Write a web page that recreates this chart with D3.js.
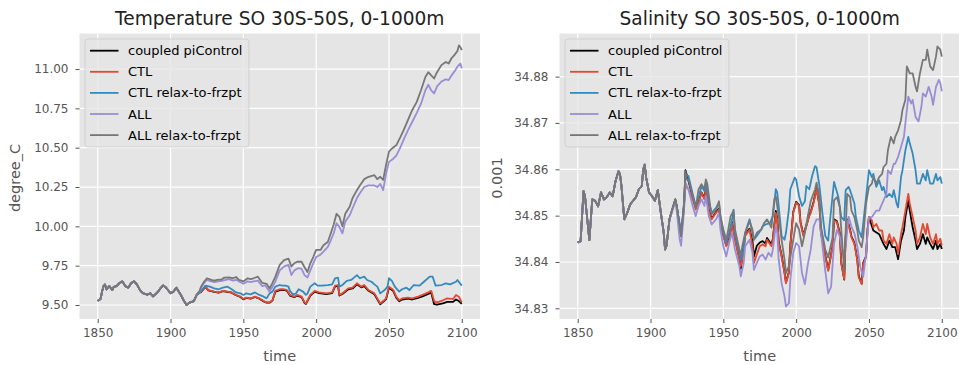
<!DOCTYPE html>
<html><head><meta charset="utf-8">
<script src="https://cdnjs.cloudflare.com/ajax/libs/d3/7.8.5/d3.min.js"></script>
<style>
body{margin:0;background:#fff}
svg{display:block;font-family:"DejaVu Sans",sans-serif}
</style>
</head><body>
<svg id="chart" width="959" height="365"></svg>
<script>
// ---------- labels / ticks ----------
const seriesNames = ["coupled piControl", "CTL", "CTL relax-to-frzpt", "ALL", "ALL relax-to-frzpt"];
const seriesColors = ["#000000", "#E24A33", "#348ABD", "#988ED5", "#777777"];
const xTicks = [1850, 1900, 1950, 2000, 2050, 2100];
const tempTicks = [9.50, 9.75, 10.00, 10.25, 10.50, 10.75, 11.00];
const salTicks = [34.83, 34.84, 34.85, 34.86, 34.87, 34.88];

// ---------- Temperature (degree_C) ----------
const tempShared = [[1850,9.525],[1852,9.54],[1853,9.585],[1854,9.62],[1855,9.63],[1856,9.60],[1858,9.62],[1860,9.595],[1861,9.615],[1863,9.62],[1865,9.64],[1867,9.65],[1869,9.62],[1871,9.61],[1873,9.64],[1875,9.65],[1877,9.63],[1879,9.595],[1881,9.575],[1884,9.565],[1886,9.575],[1888,9.555],[1891,9.58],[1893,9.605],[1895,9.625],[1897,9.61],[1900,9.575],[1902,9.585],[1904,9.61],[1907,9.565],[1909,9.53],[1911,9.50],[1913,9.515],[1916,9.525],[1918,9.565]];
const tempPiControl = [[1920,9.578],[1921,9.583],[1924,9.615],[1926,9.593],[1930,9.583],[1933,9.578],[1936,9.588],[1939,9.583],[1942,9.578],[1945,9.562],[1948,9.551],[1950,9.536],[1952,9.545],[1955,9.54],[1958,9.551],[1961,9.54],[1964,9.523],[1966,9.515],[1968,9.515],[1970,9.528],[1972,9.585],[1975,9.595],[1978,9.596],[1980,9.59],[1982,9.56],[1985,9.55],[1987,9.56],[1990,9.55],[1992,9.513],[1993,9.507],[1996,9.56],[1999,9.585],[2002,9.576],[2007,9.57],[2011,9.575],[2013,9.618],[2015,9.622],[2016,9.56],[2018,9.57],[2022,9.6],[2025,9.605],[2028,9.632],[2031,9.612],[2033,9.62],[2036,9.59],[2040,9.568],[2042,9.537],[2044,9.505],[2046,9.52],[2048,9.537],[2050,9.61],[2053,9.588],[2055,9.547],[2057,9.524],[2059,9.535],[2063,9.54],[2066,9.535],[2070,9.545],[2073,9.555],[2077,9.57],[2079,9.58],[2081,9.505],[2083,9.503],[2087,9.51],[2090,9.52],[2094,9.52],[2096,9.535],[2098,9.525],[2100,9.507]];
const tempCtl = [[1920,9.58],[1921,9.585],[1924,9.617],[1926,9.595],[1930,9.585],[1933,9.58],[1936,9.59],[1939,9.585],[1942,9.58],[1945,9.564],[1948,9.553],[1950,9.538],[1952,9.547],[1955,9.542],[1958,9.553],[1961,9.542],[1964,9.525],[1966,9.517],[1968,9.517],[1970,9.53],[1972,9.59],[1975,9.60],[1978,9.60],[1980,9.595],[1982,9.564],[1985,9.553],[1987,9.564],[1990,9.553],[1992,9.517],[1993,9.51],[1996,9.564],[1999,9.59],[2002,9.58],[2007,9.574],[2011,9.58],[2013,9.623],[2015,9.627],[2016,9.564],[2018,9.574],[2022,9.606],[2025,9.61],[2028,9.638],[2031,9.617],[2033,9.627],[2036,9.595],[2040,9.574],[2042,9.542],[2044,9.51],[2046,9.525],[2048,9.542],[2050,9.617],[2053,9.595],[2055,9.553],[2057,9.53],[2059,9.542],[2063,9.547],[2066,9.542],[2070,9.553],[2073,9.564],[2077,9.58],[2079,9.59],[2081,9.525],[2083,9.517],[2087,9.53],[2090,9.542],[2094,9.538],[2096,9.564],[2098,9.553],[2100,9.517]];
const tempCtlRelax = [[1920,9.58],[1921,9.59],[1924,9.623],[1927,9.617],[1930,9.606],[1933,9.60],[1936,9.61],[1939,9.617],[1942,9.60],[1945,9.58],[1948,9.574],[1950,9.564],[1952,9.574],[1955,9.568],[1958,9.58],[1961,9.564],[1964,9.553],[1966,9.542],[1968,9.574],[1970,9.585],[1972,9.617],[1975,9.627],[1977,9.623],[1979,9.623],[1981,9.617],[1982,9.59],[1984,9.568],[1986,9.572],[1988,9.60],[1991,9.585],[1993,9.564],[1994,9.572],[1996,9.617],[1999,9.638],[2001,9.623],[2004,9.623],[2008,9.627],[2011,9.631],[2013,9.67],[2015,9.674],[2016,9.617],[2018,9.627],[2021,9.653],[2024,9.659],[2026,9.674],[2028,9.69],[2030,9.67],[2033,9.68],[2035,9.659],[2038,9.648],[2040,9.631],[2042,9.617],[2044,9.574],[2047,9.595],[2049,9.617],[2050,9.67],[2052,9.653],[2054,9.617],[2057,9.585],[2059,9.60],[2062,9.61],[2064,9.595],[2067,9.627],[2071,9.623],[2074,9.648],[2078,9.68],[2080,9.68],[2082,9.623],[2086,9.627],[2089,9.638],[2092,9.631],[2096,9.648],[2097,9.659],[2100,9.623]];
const tempAll = [[1920,9.585],[1921,9.61],[1923,9.64],[1925,9.66],[1928,9.65],[1930,9.645],[1933,9.65],[1936,9.655],[1940,9.665],[1943,9.655],[1945,9.66],[1948,9.645],[1950,9.635],[1953,9.65],[1955,9.645],[1957,9.65],[1960,9.655],[1963,9.62],[1965,9.625],[1968,9.585],[1970,9.615],[1972,9.65],[1975,9.72],[1978,9.745],[1981,9.755],[1983,9.69],[1985,9.72],[1988,9.735],[1990,9.73],[1992,9.69],[1994,9.675],[1996,9.72],[1998,9.765],[2000,9.805],[2003,9.82],[2005,9.84],[2008,9.87],[2010,9.91],[2012,9.955],[2014,10.02],[2016,9.995],[2018,9.955],[2020,10.03],[2023,10.07],[2025,10.115],[2028,10.18],[2030,10.21],[2033,10.25],[2036,10.26],[2040,10.26],[2042,10.25],[2044,10.27],[2046,10.23],[2048,10.335],[2050,10.41],[2053,10.43],[2055,10.45],[2058,10.505],[2060,10.55],[2063,10.61],[2066,10.665],[2069,10.72],[2072,10.78],[2075,10.865],[2077,10.90],[2079,10.865],[2081,10.845],[2083,10.89],[2086,10.92],[2089,10.935],[2091,10.93],[2093,10.96],[2095,10.985],[2097,11.015],[2099,11.035],[2100,11.005]];
const tempAllRelax = [[1920,9.59],[1921,9.617],[1923,9.648],[1925,9.67],[1928,9.66],[1930,9.655],[1932,9.66],[1935,9.662],[1937,9.674],[1940,9.675],[1943,9.67],[1945,9.678],[1947,9.66],[1950,9.65],[1953,9.67],[1955,9.665],[1957,9.67],[1960,9.68],[1963,9.64],[1966,9.635],[1968,9.605],[1970,9.64],[1972,9.68],[1975,9.755],[1978,9.785],[1981,9.795],[1983,9.745],[1985,9.765],[1987,9.775],[1990,9.775],[1992,9.74],[1994,9.71],[1996,9.765],[1998,9.805],[2000,9.85],[2003,9.85],[2005,9.88],[2008,9.90],[2010,9.955],[2012,10.01],[2014,10.08],[2016,10.06],[2018,10.00],[2020,10.08],[2023,10.125],[2025,10.18],[2028,10.23],[2030,10.26],[2033,10.30],[2036,10.315],[2040,10.325],[2042,10.30],[2044,10.315],[2046,10.295],[2048,10.39],[2050,10.475],[2052,10.495],[2055,10.515],[2058,10.57],[2060,10.61],[2063,10.675],[2066,10.74],[2069,10.79],[2072,10.865],[2075,10.95],[2077,10.98],[2079,10.96],[2081,10.94],[2083,10.98],[2086,11.025],[2089,11.045],[2091,11.035],[2093,11.07],[2095,11.09],[2097,11.115],[2098,11.15],[2099,11.14],[2100,11.12]];

// ---------- Salinity (0.001) ----------
const salShared = [[1850,34.8442],[1852,34.8445],[1854,34.8553],[1855,34.8542],[1856,34.851],[1858,34.8447],[1860,34.8535],[1862,34.8532],[1864,34.852],[1866,34.855],[1868,34.8535],[1870,34.854],[1872,34.855],[1874,34.8542],[1876,34.8575],[1878,34.8596],[1879,34.859],[1880,34.8565],[1882,34.8492],[1884,34.8506],[1886,34.8524],[1888,34.8532],[1890,34.854],[1892,34.8557],[1894,34.8564],[1895,34.86],[1896,34.861],[1897,34.8582],[1899,34.855],[1901,34.8542],[1903,34.8532],[1905,34.8555],[1907,34.8508],[1909,34.8465]];
const salPiControl = [[1910,34.8427],[1911,34.8435],[1913,34.8492],[1915,34.8514],[1917,34.8535],[1918,34.8521],[1920,34.8478],[1921,34.8456],[1923,34.8521],[1924,34.8598],[1926,34.8575],[1929,34.854],[1931,34.852],[1933,34.853],[1935,34.855],[1937,34.8538],[1938,34.8558],[1940,34.8512],[1942,34.8494],[1945,34.8508],[1947,34.8515],[1948,34.8486],[1950,34.8458],[1952,34.8436],[1954,34.845],[1956,34.8486],[1958,34.845],[1961,34.8408],[1962,34.8385],[1964,34.8435],[1965,34.846],[1968,34.8472],[1970,34.8445],[1971,34.8412],[1973,34.8435],[1975,34.8442],[1977,34.8445],[1979,34.844],[1980,34.8452],[1983,34.8438],[1984,34.845],[1986,34.851],[1987,34.8495],[1988,34.8444],[1990,34.8414],[1992,34.8378],[1993,34.8356],[1995,34.8378],[1996,34.8436],[1998,34.8508],[2000,34.853],[2002,34.8523],[2003,34.8486],[2005,34.8458],[2007,34.8479],[2009,34.8501],[2010,34.8508],[2012,34.853],[2014,34.8559],[2016,34.8523],[2017,34.8465],[2020,34.8414],[2022,34.8383],[2025,34.8434],[2026,34.8492],[2028,34.8488],[2030,34.8462],[2031,34.8398],[2033,34.8362],[2034,34.8455],[2035,34.8492],[2037,34.847],[2038,34.8455],[2040,34.8441],[2042,34.8405],[2043,34.8369],[2045,34.8354],[2046,34.8398],[2048,34.8412],[2049,34.847],[2050,34.8497],[2053,34.8468],[2057,34.846],[2060,34.8439],[2062,34.8428],[2064,34.8446],[2066,34.8432],[2068,34.8432],[2070,34.8406],[2072,34.8446],[2074,34.8468],[2075,34.8497],[2077,34.8533],[2078,34.8511],[2080,34.8475],[2082,34.8446],[2083,34.8428],[2085,34.8439],[2087,34.846],[2089,34.8439],[2090,34.8453],[2092,34.8439],[2094,34.8428],[2096,34.8446],[2097,34.8428],[2099,34.8439],[2100,34.8428]];
const salCtl = [[1910,34.8427],[1911,34.8435],[1913,34.8492],[1915,34.8514],[1917,34.8533],[1918,34.852],[1920,34.847],[1921,34.8455],[1923,34.8525],[1924,34.8564],[1926,34.8557],[1929,34.8535],[1931,34.8513],[1933,34.8528],[1935,34.8549],[1937,34.8535],[1938,34.8557],[1940,34.851],[1942,34.8492],[1945,34.8506],[1947,34.8513],[1948,34.8484],[1950,34.8456],[1952,34.8434],[1954,34.8448],[1956,34.8484],[1958,34.8448],[1961,34.8405],[1962,34.8391],[1964,34.842],[1965,34.8456],[1968,34.847],[1970,34.8434],[1971,34.8398],[1973,34.8416],[1975,34.8434],[1977,34.8438],[1979,34.8434],[1980,34.8448],[1983,34.8434],[1984,34.8448],[1986,34.8506],[1987,34.8492],[1988,34.8441],[1990,34.8412],[1992,34.8376],[1993,34.8354],[1995,34.8376],[1996,34.8434],[1998,34.8506],[2000,34.8528],[2002,34.8521],[2003,34.8484],[2005,34.8456],[2007,34.8477],[2009,34.8499],[2010,34.8506],[2012,34.8528],[2014,34.8557],[2016,34.8521],[2017,34.8463],[2020,34.8412],[2022,34.8381],[2025,34.8432],[2026,34.849],[2028,34.8486],[2030,34.846],[2031,34.8396],[2033,34.8363],[2034,34.8453],[2035,34.849],[2037,34.8468],[2038,34.8453],[2040,34.8439],[2042,34.8403],[2043,34.8367],[2045,34.8352],[2046,34.8396],[2048,34.841],[2049,34.8468],[2050,34.8497],[2052,34.849],[2053,34.8475],[2055,34.8482],[2057,34.8468],[2059,34.8468],[2060,34.8446],[2062,34.8439],[2064,34.846],[2066,34.8439],[2067,34.8453],[2069,34.8439],[2070,34.8417],[2072,34.846],[2073,34.8475],[2075,34.8511],[2077,34.8547],[2078,34.8526],[2080,34.8497],[2082,34.8468],[2083,34.8439],[2085,34.8453],[2087,34.8482],[2089,34.846],[2090,34.8482],[2092,34.8453],[2094,34.8439],[2096,34.846],[2097,34.8439],[2099,34.845],[2100,34.8435]];
const salCtlRelax = [[1910,34.8427],[1911,34.8435],[1913,34.8492],[1915,34.8514],[1917,34.8535],[1918,34.852],[1920,34.8482],[1921,34.846],[1923,34.8528],[1924,34.8586],[1926,34.8586],[1929,34.8546],[1931,34.8521],[1933,34.8539],[1935,34.8564],[1937,34.8553],[1938,34.8571],[1940,34.8531],[1942,34.8506],[1945,34.8517],[1947,34.8528],[1948,34.8499],[1950,34.8463],[1952,34.8441],[1954,34.8463],[1956,34.8492],[1957,34.8513],[1958,34.8463],[1961,34.842],[1962,34.8405],[1964,34.8427],[1965,34.8463],[1968,34.8492],[1970,34.8463],[1971,34.8448],[1973,34.8456],[1976,34.847],[1977,34.8477],[1979,34.8481],[1982,34.8484],[1984,34.8499],[1986,34.8557],[1987,34.855],[1988,34.8521],[1990,34.8456],[1992,34.8448],[1993,34.8463],[1995,34.8513],[1996,34.8557],[1999,34.8582],[2000,34.8578],[2002,34.8542],[2004,34.8521],[2006,34.8531],[2007,34.8564],[2009,34.8557],[2011,34.8586],[2013,34.8607],[2014,34.8604],[2016,34.8564],[2018,34.8506],[2020,34.8456],[2022,34.8446],[2023,34.8482],[2026,34.8573],[2027,34.8562],[2029,34.854],[2031,34.8497],[2033,34.849],[2034,34.8555],[2036,34.8562],[2037,34.8555],[2040,34.8526],[2041,34.8497],[2043,34.8468],[2045,34.8453],[2046,34.8482],[2048,34.854],[2050,34.8598],[2052,34.8583],[2053,34.859],[2055,34.8562],[2057,34.8576],[2059,34.8555],[2060,34.8562],[2062,34.854],[2064,34.8547],[2066,34.854],[2067,34.8555],[2069,34.8526],[2070,34.8518],[2072,34.8583],[2073,34.8598],[2075,34.8641],[2077,34.867],[2078,34.8656],[2080,34.8634],[2082,34.8598],[2083,34.8569],[2085,34.8569],[2087,34.859],[2089,34.8576],[2090,34.8598],[2092,34.8569],[2094,34.8569],[2096,34.859],[2097,34.8576],[2099,34.8583],[2100,34.8569]];
const salAll = [[1910,34.8427],[1911,34.8435],[1913,34.849],[1915,34.851],[1917,34.853],[1918,34.851],[1920,34.8449],[1921,34.8435],[1923,34.851],[1924,34.8571],[1926,34.8557],[1929,34.8521],[1931,34.8499],[1933,34.8521],[1935,34.8535],[1937,34.8521],[1938,34.8542],[1940,34.8499],[1942,34.8481],[1945,34.8492],[1947,34.8506],[1948,34.847],[1950,34.8434],[1952,34.8412],[1954,34.8441],[1956,34.8463],[1958,34.8427],[1961,34.8391],[1962,34.8369],[1964,34.8398],[1965,34.8434],[1968,34.8448],[1970,34.842],[1971,34.8383],[1973,34.8398],[1975,34.8412],[1977,34.8416],[1979,34.8405],[1981,34.842],[1983,34.8412],[1984,34.8427],[1986,34.8477],[1987,34.8463],[1988,34.8405],[1990,34.8354],[1992,34.8326],[1993,34.8304],[1995,34.8311],[1996,34.8362],[1998,34.842],[2000,34.8441],[2002,34.8434],[2004,34.8376],[2006,34.8352],[2008,34.8395],[2010,34.8427],[2012,34.8477],[2014,34.8492],[2016,34.8492],[2017,34.8463],[2020,34.8381],[2022,34.8332],[2024,34.8347],[2026,34.844],[2028,34.8469],[2030,34.8455],[2032,34.8419],[2034,34.8433],[2036,34.8498],[2038,34.8476],[2040,34.8462],[2042,34.8433],[2044,34.839],[2046,34.8368],[2048,34.8419],[2050,34.8497],[2052,34.8497],[2055,34.8511],[2057,34.8511],[2059,34.8526],[2062,34.8547],[2063,34.8598],[2065,34.859],[2067,34.8612],[2068,34.8612],[2070,34.8627],[2072,34.8648],[2074,34.867],[2075,34.8699],[2077,34.8757],[2079,34.8742],[2080,34.875],[2082,34.8713],[2084,34.8703],[2086,34.8735],[2087,34.8764],[2089,34.8757],[2091,34.8778],[2093,34.8757],[2094,34.8739],[2096,34.8778],[2098,34.8793],[2099,34.8786],[2100,34.8768]];
const salAllRelax = [[1910,34.8427],[1911,34.8435],[1913,34.8492],[1915,34.8514],[1917,34.8535],[1918,34.8521],[1920,34.8478],[1921,34.8456],[1923,34.8521],[1924,34.8596],[1925,34.8578],[1926,34.8578],[1929,34.8542],[1931,34.8517],[1933,34.8557],[1935,34.8568],[1937,34.8557],[1938,34.8578],[1939,34.8568],[1941,34.852],[1942,34.8503],[1945,34.8513],[1947,34.8531],[1948,34.8499],[1950,34.847],[1952,34.8448],[1953,34.8463],[1955,34.8499],[1957,34.851],[1958,34.847],[1961,34.8427],[1962,34.8412],[1963,34.8434],[1965,34.8463],[1968,34.8488],[1970,34.847],[1971,34.8448],[1973,34.8463],[1976,34.847],[1978,34.8484],[1980,34.8492],[1983,34.8474],[1985,34.8535],[1986,34.8542],[1988,34.8499],[1990,34.8448],[1992,34.8405],[1993,34.8376],[1995,34.8391],[1998,34.8448],[2000,34.8484],[2002,34.847],[2004,34.8434],[2006,34.8463],[2008,34.8499],[2010,34.8531],[2013,34.8557],[2014,34.8571],[2016,34.8542],[2017,34.8477],[2020,34.8427],[2022,34.841],[2025,34.8453],[2026,34.8533],[2028,34.854],[2030,34.8518],[2031,34.8468],[2033,34.8381],[2034,34.8468],[2035,34.8547],[2037,34.854],[2038,34.8511],[2040,34.8497],[2042,34.8468],[2043,34.8446],[2045,34.8432],[2046,34.8453],[2048,34.8526],[2050,34.8562],[2052,34.8569],[2053,34.8583],[2055,34.8569],[2057,34.8583],[2059,34.859],[2060,34.8605],[2062,34.8612],[2063,34.8641],[2065,34.867],[2067,34.8656],[2068,34.867],[2070,34.8684],[2072,34.8706],[2073,34.8728],[2075,34.875],[2076,34.8822],[2078,34.8807],[2080,34.8807],[2082,34.8778],[2083,34.8768],[2085,34.8807],[2087,34.8836],[2089,34.8836],[2090,34.8858],[2092,34.8822],[2094,34.8814],[2096,34.8843],[2097,34.8865],[2099,34.8858],[2100,34.8843]];

// ---------- drawing ----------
const svg = d3.select("#chart");

function panel(cfg) {
  const {left, right, top, bottom} = cfg;
  const g = svg.append("g");
  const x = d3.scaleLinear().domain([1837.5, 2112.5]).range([left, right]);
  const y = d3.scaleLinear().domain(cfg.yDomain).range([bottom, top]);

  g.append("rect").attr("x", left).attr("y", top)
    .attr("width", right - left).attr("height", bottom - top).attr("fill", "#E5E5E5");

  // grid
  g.append("g").selectAll("line").data(xTicks).join("line")
    .attr("x1", d => x(d)).attr("x2", d => x(d)).attr("y1", top).attr("y2", bottom)
    .attr("stroke", "#fff").attr("stroke-width", 1.2);
  g.append("g").selectAll("line").data(cfg.yTicks).join("line")
    .attr("y1", d => y(d)).attr("y2", d => y(d)).attr("x1", left).attr("x2", right)
    .attr("stroke", "#fff").attr("stroke-width", 1.2);

  // axes
  const xa = g.append("g").attr("transform", `translate(0,${bottom})`)
    .call(d3.axisBottom(x).tickValues(xTicks).tickFormat(d3.format("d")).tickSize(4).tickPadding(5));
  const ya = g.append("g").attr("transform", `translate(${left},0)`)
    .call(d3.axisLeft(y).tickValues(cfg.yTicks).tickFormat(d3.format(".2f")).tickSize(4).tickPadding(7));
  [xa, ya].forEach(a => {
    a.select(".domain").remove();
    a.selectAll(".tick line").attr("stroke", "#555555").attr("stroke-width", 1);
    a.selectAll(".tick text").attr("fill", "#555555").style("font-size", "12px")
      .style("font-family", '"DejaVu Sans", sans-serif');
  });

  // lines
  const clipId = "clip" + cfg.id;
  svg.append("clipPath").attr("id", clipId).append("rect")
    .attr("x", left).attr("y", top).attr("width", right - left).attr("height", bottom - top);
  const line = d3.line().x(d => x(d[0])).y(d => y(d[1]));
  const lg = g.append("g").attr("clip-path", `url(#${clipId})`);
  cfg.series.forEach((s, i) => {
    lg.append("path").datum(cfg.shared.concat(s)).attr("d", line)
      .attr("fill", "none").attr("stroke", seriesColors[i]).attr("stroke-width", 1.8)
      .attr("stroke-linejoin", "round");
  });

  // title and labels
  g.append("text").attr("x", (left + right) / 2).attr("y", 25).attr("text-anchor", "middle")
    .style("font-size", "18.6px").attr("fill", "#222").text(cfg.title);
  g.append("text").attr("x", (left + right) / 2).attr("y", 360.5).attr("text-anchor", "middle")
    .style("font-size", "14.5px").attr("fill", "#555555").text("time");
  g.append("text").attr("transform", `translate(${left - cfg.ylabOffset},178) rotate(-90)`)
    .attr("text-anchor", "middle").style("font-size", "14.5px").attr("fill", "#555555").text(cfg.ylabel);

  // legend
  const lgd = g.append("g").attr("transform", `translate(${left + 5.5},39)`);
  lgd.append("rect").attr("width", 164).attr("height", 108).attr("rx", 3)
    .attr("fill", "#E5E5E5").attr("fill-opacity", 0.8).attr("stroke", "#cccccc").attr("stroke-opacity", 0.8);
  seriesNames.forEach((name, i) => {
    const cy = 11.7 + i * 21.1;
    lgd.append("line").attr("x1", 5).attr("x2", 33.5).attr("y1", cy).attr("y2", cy)
      .attr("stroke", seriesColors[i]).attr("stroke-width", 1.8);
    lgd.append("text").attr("x", 43).attr("y", cy).attr("dy", "0.35em")
      .style("font-size", "13px").attr("fill", "#000").text(name);
  });
}

panel({id: "t", left: 79.5, right: 480, top: 33.5, bottom: 319, yDomain: [9.411, 11.226], yTicks: tempTicks,
  title: "Temperature SO 30S-50S, 0-1000m", ylabel: "degree_C", ylabOffset: 60,
  shared: tempShared, series: [tempPiControl, tempCtl, tempCtlRelax, tempAll, tempAllRelax]});
panel({id: "s", left: 559.5, right: 960, top: 33.5, bottom: 319, yDomain: [34.8277, 34.8893], yTicks: salTicks,
  title: "Salinity SO 30S-50S, 0-1000m", ylabel: "0.001", ylabOffset: 58,
  shared: salShared, series: [salPiControl, salCtl, salCtlRelax, salAll, salAllRelax]});
</script>
</body></html>
